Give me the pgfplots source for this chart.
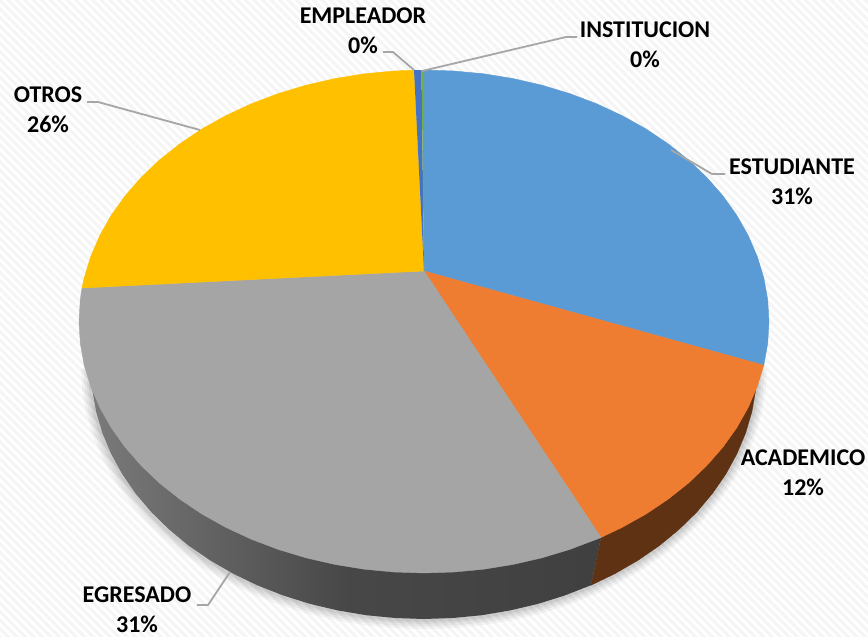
\documentclass[border=0pt]{standalone}
\usepackage{fontspec}
\setmainfont{Carlito}
\usepackage{pgfplots}
\usepackage{pgfplotstable}
\pgfplotsset{compat=1.18}
\usetikzlibrary{patterns.meta}
\definecolor{cblue}{HTML}{5B9BD5}
\definecolor{corange}{HTML}{EF7D31}
\definecolor{cgray}{HTML}{A5A5A5}
\definecolor{cyellow}{HTML}{FFC000}
\definecolor{cdblue}{HTML}{4472C4}
\definecolor{cgreen}{HTML}{70AD47}
\definecolor{cside}{HTML}{5F3213}
\definecolor{cleader}{HTML}{A6A6A6}
\pgfplotstableread{
x y
757 368
755.7 389.9
751.9 411.6
745.6 433.0
736.9 453.8
725.8 474.1
712.4 493.5
696.8 512.0
679.1 529.3
659.5 545.5
638.0 560.3
615.0 573.6
590.5 585.4
564.7 595.5
537.9 603.9
510.2 610.4
481.8 615.2
453.0 618.0
424 619
395.0 618
366.2 615.2
337.8 610.4
310.1 603.9
283.3 595.5
257.5 585.4
233.0 573.6
210.0 560.3
188.5 545.5
168.9 529.3
151.2 512.0
135.6 493.5
122.2 474.1
111.1 453.8
102.4 433.0
96.1 411.6
92.3 389.9
91 368
}\bottomarc
\newcommand{\lab}[4]{\node[align=center,inner sep=0pt,text=black,font=\fontsize{24}{30}\selectfont\bfseries] at (axis cs:#1,#2) {#3\\#4};}
\begin{document}
\begin{tikzpicture}
\begin{axis}[
  width=868pt,height=637pt,scale only axis,
  xmin=0,xmax=868,ymin=0,ymax=637,y dir=reverse,
  hide axis,clip=true]
\fill[white] (axis cs:0,0) rectangle (axis cs:868,637);
\fill[pattern={Lines[angle=-45,distance=6pt,line width=3pt]},pattern color=black!4] (axis cs:0,0) rectangle (axis cs:868,637);
% soft shadow
\addplot[draw=black,opacity=.04,line width=20pt] table[x=x,y=y] {\bottomarc};
\addplot[draw=black,opacity=.05,line width=15pt] table[x=x,y=y] {\bottomarc};
\addplot[draw=black,opacity=.05,line width=10pt] table[x=x,y=y] {\bottomarc};
\addplot[draw=black,opacity=.06,line width=6pt] table[x=x,y=y] {\bottomarc};
% side walls
\addplot[fill=cside,draw=cside,line width=.4pt] coordinates {
(700,380) (757,368) (755.7,389.9) (751.9,411.6) (745.6,433.0) (736.9,453.8) (725.8,474.1) (712.4,493.5)
(696.8,512.0) (679.1,529.3) (659.5,545.5) (638.0,560.3) (615.0,573.6) (591,585.2) (601,537.5)} -- cycle;
\addplot[left color=black!52,right color=black!75,middle color=black!72,draw=none] coordinates {
(601,537.5) (591,585.2) (564.7,595.5) (537.9,603.9) (510.2,610.4) (481.8,615.2) (453.0,618.0) (424,619)
(395.0,618) (366.2,615.2) (337.8,610.4) (310.1,603.9) (283.3,595.5) (257.5,585.4) (233.0,573.6)
(210.0,560.3) (188.5,545.5) (168.9,529.3) (151.2,512.0) (135.6,493.5) (122.2,474.1) (111.1,453.8)
(102.4,433.0) (96.1,411.6) (92.3,389.9) (91,368) (300,300)} -- cycle;
% top face
\addplot[fill=cblue,draw=cblue,line width=.4pt] coordinates {
(424,271) (424,70) (454.1,71.0) (483.9,73.8) (513.3,78.6) (542.0,85.2) (569.8,93.6) (596.5,103.7)
(621.9,115.5) (645.8,128.8) (668.0,143.7) (688.3,159.8) (706.6,177.2) (722.8,195.7) (736.7,215.2)
(748.2,235.5) (757.2,256.4) (763.8,277.8) (767.7,299.6) (769,321.5) (767.7,343.4) (763.8,365.2)} -- cycle;
\addplot[fill=corange,draw=corange,line width=.4pt] coordinates {
(424,271) (763.8,365.2) (757.2,386.6) (748.2,407.5) (736.7,427.8) (722.8,447.3) (706.6,465.8)
(688.3,483.2) (668.0,499.3) (645.8,514.2) (621.9,527.5) (601,537.5)} -- cycle;
\addplot[fill=cgray,draw=cgray,line width=.4pt] coordinates {
(424,271) (601,537.5) (596.5,539.3) (569.8,549.4) (542.0,557.8) (513.3,564.4) (483.9,569.2) (454.1,572.0)
(424,573) (393.9,572.0) (364.1,569.2) (334.7,564.4) (306.0,557.8) (278.2,549.4) (251.5,539.3)
(226.1,527.5) (202.2,514.2) (180.0,499.3) (159.7,483.2) (141.4,465.8) (125.2,447.3) (111.3,427.8)
(99.8,407.5) (90.8,386.6) (84.2,365.2) (80.3,343.4) (79,321.5) (80.3,299.6) (82,288)} -- cycle;
\addplot[fill=cyellow,draw=cyellow,line width=.4pt] coordinates {
(424,271) (82,288) (84.2,277.8) (90.8,256.4) (99.8,235.5) (111.3,215.2) (125.2,195.7) (141.4,177.2)
(159.7,159.8) (180.0,143.7) (202.2,128.8) (226.1,115.5) (251.5,103.7) (278.2,93.6) (306,85.2)
(334.7,78.6) (364.1,73.8) (393.9,71.0) (414,70.2)} -- cycle;
\addplot[fill=cdblue,draw=none] coordinates {(424,271) (414,70.2) (421.5,70)} -- cycle;
\addplot[fill=cgreen,draw=none] coordinates {(424,271) (421.5,70) (424,70)} -- cycle;
% leader lines
\addplot[draw=cleader,line width=1.8pt] coordinates {(671,150) (712,174) (725,174)};
\addplot[draw=cleader,line width=1.8pt] coordinates {(422,71) (566,37) (577,37)};
\addplot[draw=cleader,line width=1.8pt] coordinates {(414,70) (393,52) (383,52)};
\addplot[draw=cleader,line width=1.8pt] coordinates {(200,130) (98,102) (87,102)};
\addplot[draw=cleader,line width=1.8pt] coordinates {(230,572) (208,605) (197,605)};
% labels
\lab{792}{182}{ESTUDIANTE}{31\%}
\lab{645}{45}{INSTITUCION}{0\%}
\lab{363}{31}{EMPLEADOR}{0\%}
\lab{48}{110}{OTROS}{26\%}
\lab{803}{473}{ACADEMICO}{12\%}
\lab{137}{610}{EGRESADO}{31\%}
\end{axis}
\end{tikzpicture}
\end{document}
